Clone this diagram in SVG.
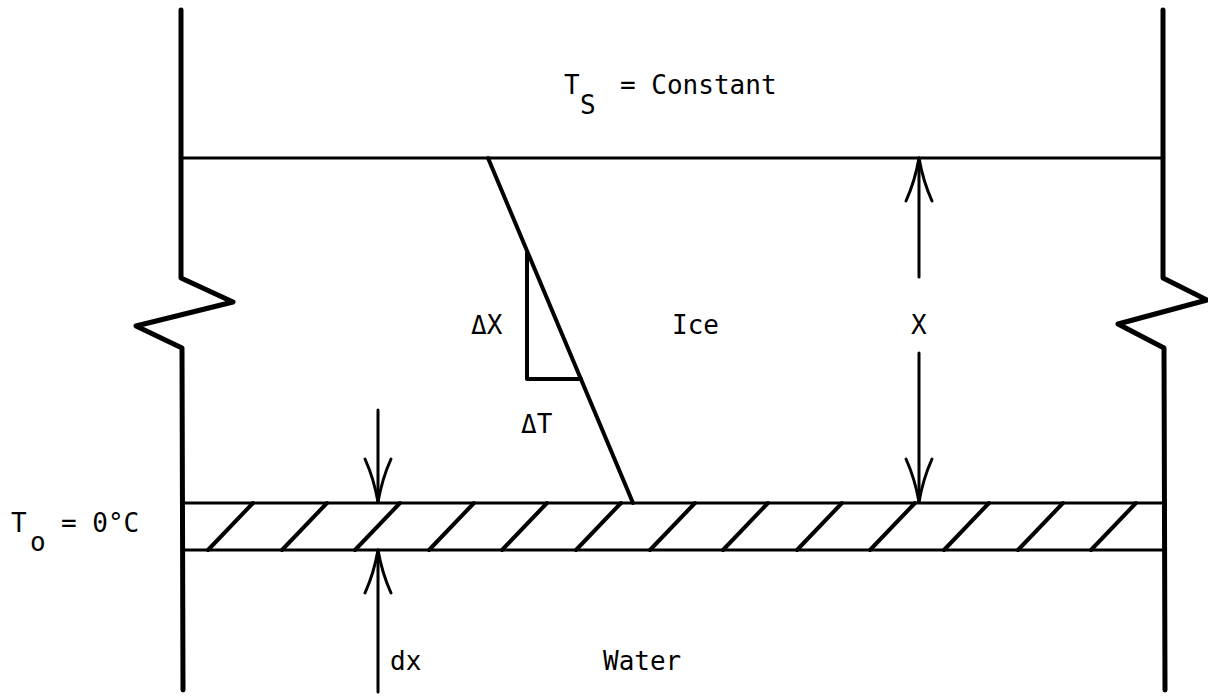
<svg xmlns="http://www.w3.org/2000/svg" width="1208" height="697" viewBox="0 0 1208 697">
<style>
.ln{fill:none;stroke:#000;stroke-linecap:round;stroke-linejoin:round}
.wall{stroke-width:5}
.thin{stroke-width:3}
.med{stroke-width:4}
.ah{fill:none;stroke:#000;stroke-width:3;stroke-linecap:round;stroke-linejoin:round}
text{font-family:"DejaVu Sans Mono","Liberation Mono",monospace;font-size:26px;fill:#000}
</style>
<rect width="1208" height="697" fill="#fff"/>
<g id="walls">
<path class="ln wall" d="M181,10 V278 L233,302 L136,326 L182,348 L183,690"/>
<path class="ln wall" d="M1163,10 V278 L1207,300 L1118,324 L1164,348 L1165,690"/>
</g>
<g id="ice">
<path class="ln thin" d="M181,158 H1163"/>
<path class="ln med" d="M488,158 L633,503"/>
<path class="ln med" d="M527,253 V379 H581"/>
</g>
<g id="band">
<path class="ln thin" d="M183,503 H1164 M183,550 H1165"/>
<path class="ln med" d="M208,550 L253,503 M282,550 L327,503 M355,550 L400,503 M429,550 L474,503 M502,550 L547,503 M576,550 L621,503 M650,550 L695,503 M723,550 L768,503 M797,550 L842,503 M870,550 L915,503 M944,550 L989,503 M1018,550 L1063,503 M1091,550 L1136,503"/>
</g>
<g id="connectors">
<path class="ln thin" d="M919,158 V277"/>
<path class="ah" d="M906,201 Q915,181 919,158 Q923,181 932,201"/>
<path class="ln thin" d="M919,353 V502"/>
<path class="ah" d="M906,459 Q915,479 919,502 Q923,479 932,459"/>
<path class="ln thin" d="M378,410 V502"/>
<path class="ah" d="M365,459 Q374,479 378,502 Q382,479 391,459"/>
<path class="ln thin" d="M378,550 V692"/>
<path class="ah" d="M365,593 Q374,573 378,550 Q382,573 391,593"/>
</g>
<g id="labels">
<text x="564" y="94">T</text><text x="580" y="114">S</text><text x="620" y="94">= Constant</text>
<text x="471" y="334">ΔX</text>
<text x="672" y="334">Ice</text>
<text x="911" y="334">X</text>
<text x="521" y="433">ΔT</text>
<text x="11" y="532">T</text><text x="30" y="551">o</text><text x="61" y="532">= 0°C</text>
<text x="390" y="670">dx</text>
<text x="603" y="670">Water</text>
</g>
</svg>
